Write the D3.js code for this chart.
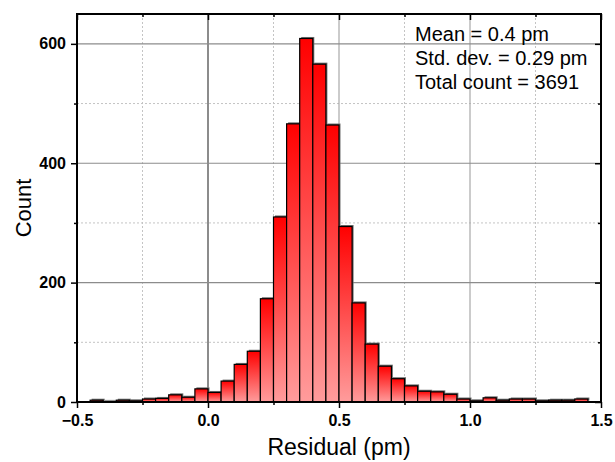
<!DOCTYPE html>
<html>
<head>
<meta charset="utf-8">
<script src="https://cdn.jsdelivr.net/npm/d3@7"></script>
<style>
body { margin: 0; background: #fff; }
text { font-family: Arial, "Liberation Sans", sans-serif; }
</style>
</head>
<body>
<script>
// histogram bins (left edge, pm) and counts
var binStart = -0.45;
var binWidth = 0.05;
var counts = [3, 1, 3, 2, 5, 6, 12, 8, 22, 16, 35, 63, 85, 173, 310, 466, 609, 566, 464,
              294, 166, 97, 60, 39, 27, 18, 17, 13, 5, 2, 7, 3, 5, 5, 2, 3, 3, 5];
var xTicks = [-0.5, 0.0, 0.5, 1.0, 1.5];
var xMinor = [-0.25, 0.25, 0.75, 1.25];
var yTicks = [0, 200, 400, 600];
var yMinor = [100, 300, 500];
var notes = ["Mean = 0.4 pm", "Std. dev. = 0.29 pm", "Total count = 3691"];

var W = 615, H = 462;
var margin = {top: 14, right: 14, bottom: 60, left: 77};
var w = W - margin.left - margin.right;
var h = H - margin.top - margin.bottom;

var bins = counts.map(function(c, i) {
  return {x0: binStart + i * binWidth, x1: binStart + (i + 1) * binWidth, n: c};
});

var svg = d3.select("body").append("svg")
  .attr("width", W)
  .attr("height", H);

var defs = svg.append("defs");
var grad = defs.append("linearGradient")
  .attr("id", "barfill")
  .attr("x1", 0).attr("y1", 0).attr("x2", 0).attr("y2", 1);
grad.append("stop").attr("offset", "0%").attr("stop-color", "#ff0000");
grad.append("stop").attr("offset", "100%").attr("stop-color", "#ff9c9c");

var g = svg.append("g")
  .attr("transform", "translate(" + margin.left + "," + margin.top + ")");

var x = d3.scaleLinear().domain([-0.5, 1.5]).range([0, w]);
var y = d3.scaleLinear().domain([0, 650]).range([h, 0]);

// grid
g.append("g").selectAll("line")
  .data(xMinor).enter().append("line")
  .attr("x1", function(d) { return x(d); })
  .attr("x2", function(d) { return x(d); })
  .attr("y1", 0).attr("y2", h)
  .attr("stroke", "#c4c4c4")
  .attr("stroke-dasharray", "2,2");
g.append("g").selectAll("line")
  .data(yMinor).enter().append("line")
  .attr("x1", 0).attr("x2", w)
  .attr("y1", function(d) { return y(d); })
  .attr("y2", function(d) { return y(d); })
  .attr("stroke", "#c4c4c4")
  .attr("stroke-dasharray", "2,2");
g.append("g").selectAll("line")
  .data([0.0, 0.5, 1.0]).enter().append("line")
  .attr("x1", function(d) { return x(d); })
  .attr("x2", function(d) { return x(d); })
  .attr("y1", 0).attr("y2", h)
  .attr("stroke", function(d) { return d === 0 ? "#8c8c8c" : "#a8a8a8"; })
  .attr("stroke-width", function(d) { return d === 0 ? 2 : 1.2; });
g.append("g").selectAll("line")
  .data([200, 400, 600]).enter().append("line")
  .attr("x1", 0).attr("x2", w)
  .attr("y1", function(d) { return y(d); })
  .attr("y2", function(d) { return y(d); })
  .attr("stroke", "#8c8c8c")
  .attr("stroke-width", 1.2);

// bars with shadow
var bars = g.append("g");
bars.selectAll("rect.shadow")
  .data(bins).enter().append("rect")
  .attr("class", "shadow")
  .attr("x", function(d) { return x(d.x0) + 1.5; })
  .attr("y", function(d) { return y(d.n) - 1.5; })
  .attr("width", function(d) { return x(d.x1) - x(d.x0); })
  .attr("height", function(d) { return y(0) - y(d.n); })
  .attr("fill", "#6e6e6e");
bars.selectAll("rect.bar")
  .data(bins).enter().append("rect")
  .attr("class", "bar")
  .attr("x", function(d) { return x(d.x0); })
  .attr("y", function(d) { return y(d.n); })
  .attr("width", function(d) { return x(d.x1) - x(d.x0); })
  .attr("height", function(d) { return y(0) - y(d.n); })
  .attr("fill", "url(#barfill)")
  .attr("stroke", "#000")
  .attr("stroke-width", 1.2);

// axes
var xAxis = g.append("g").attr("transform", "translate(0," + h + ")")
  .call(d3.axisBottom(x).tickValues(xTicks).tickSize(6).tickPadding(7)
    .tickFormat(d3.format(".1f")));
var xAxisMinor = g.append("g").attr("transform", "translate(0," + h + ")")
  .call(d3.axisBottom(x).tickValues(xMinor).tickSize(3).tickFormat(""));
var xTop = g.append("g")
  .call(d3.axisBottom(x).tickValues(xTicks).tickSize(6).tickFormat(""));
var xTopMinor = g.append("g")
  .call(d3.axisBottom(x).tickValues(xMinor).tickSize(3).tickFormat(""));

var yAxis = g.append("g")
  .call(d3.axisLeft(y).tickValues(yTicks).tickSize(6).tickPadding(5));
var yAxisMinor = g.append("g")
  .call(d3.axisLeft(y).tickValues(yMinor).tickSize(3).tickFormat(""));
var yRight = g.append("g").attr("transform", "translate(" + w + ",0)")
  .call(d3.axisLeft(y).tickValues(yTicks).tickSize(6).tickFormat(""));
var yRightMinor = g.append("g").attr("transform", "translate(" + w + ",0)")
  .call(d3.axisLeft(y).tickValues(yMinor).tickSize(3).tickFormat(""));

g.selectAll(".domain").remove();
g.selectAll(".tick line").attr("stroke", "#000").attr("stroke-width", 1.5);
g.selectAll(".tick text")
  .attr("fill", "#000")
  .style("font-size", "16px")
  .style("font-weight", "bold")
  .style("font-family", "Arial, 'Liberation Sans', sans-serif");

// frame
g.append("rect")
  .attr("x", 0).attr("y", 0)
  .attr("width", w).attr("height", h)
  .attr("fill", "none")
  .attr("stroke", "#000")
  .attr("stroke-width", 2);

// axis titles
svg.append("text")
  .attr("x", margin.left + w / 2)
  .attr("y", 455)
  .attr("text-anchor", "middle")
  .style("font-size", "23px")
  .text("Residual (pm)");
svg.append("text")
  .attr("transform", "translate(31," + (margin.top + h / 2) + ") rotate(-90)")
  .attr("text-anchor", "middle")
  .style("font-size", "22px")
  .text("Count");

// statistics
svg.append("g").selectAll("text")
  .data(notes).enter().append("text")
  .attr("x", 415)
  .attr("y", function(d, i) { return 41 + i * 24; })
  .style("font-size", "20px")
  .text(function(d) { return d; });
</script>
</body>
</html>
